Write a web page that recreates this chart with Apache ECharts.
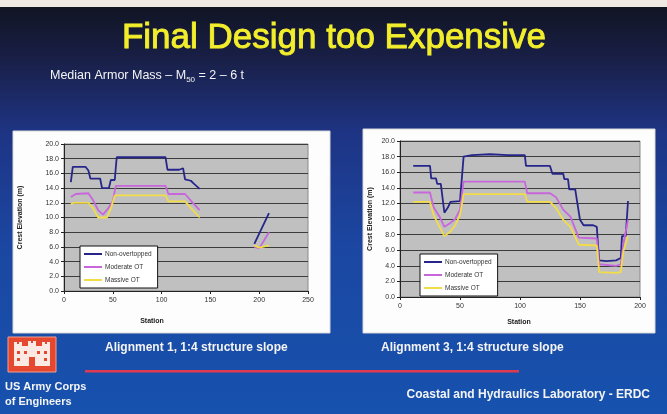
<!DOCTYPE html>
<html>
<head>
<meta charset="utf-8">
<script src="https://cdn.jsdelivr.net/npm/echarts@6/dist/echarts.min.js"></script>
<style>
  html, body { margin: 0; padding: 0; background: #14182c; }
  #chart { width: 667px; height: 414px; }
</style>
</head>
<body>
<div id="chart"></div>
<script>
// Crest elevation (m) along station, alignment 1 (null = gap in the structure)
const a1NonStation = [7, 9, 22, 25, 27, 37, 39, 46, 48, 52, 54, 104, 106, 118, 122, 124, 130, 133, 139, null, 195, 210];
const a1NonElev    = [14.8, 16.9, 16.9, 16.4, 15.3, 15.3, 14.0, 14.0, 15.1, 15.1, 18.2, 18.2, 16.5, 16.5, 16.7, 15.2, 15.0, 14.6, 13.9, null, 6.4, 10.6];
const a1ModStation = [7, 12, 25, 30, 35, 40, 45, 50, 53, 104, 107, 124, 132, 139, null, 195, 200, 210];
const a1ModElev    = [12.8, 13.2, 13.3, 12.3, 11.0, 10.4, 11.2, 12.2, 14.3, 14.3, 13.2, 13.2, 12.0, 11.0, null, 6.0, 5.8, 8.0];
const a1MasStation = [7, 10, 25, 30, 35, 44, 48, 52, 104, 107, 124, 132, 139, null, 195, 200, 210];
const a1MasElev    = [11.8, 12.0, 12.0, 11.2, 10.0, 10.0, 11.2, 13.0, 13.0, 12.2, 12.2, 11.0, 10.0, null, 6.2, 5.9, 6.2];

// Crest elevation (m) along station, alignment 3
const a3NonStation = [11, 25, 26, 30, 31, 34, 37, 40, 42, 50, 53, 60, 75, 90, 104, 105, 125, 127, 136, 137, 140, 141, 146, 150, 153, 161, 164, 165, 166, 172, 180, 184, 185, 188, 189, 190];
const a3NonElev    = [16.8, 16.8, 15.2, 15.2, 14.5, 14.5, 10.8, 11.5, 12.2, 12.3, 18.0, 18.2, 18.3, 18.2, 18.2, 16.8, 16.8, 15.8, 15.8, 15.1, 15.1, 13.8, 13.8, 9.9, 9.2, 9.2, 9.0, 6.7, 4.7, 4.6, 4.7, 5.0, 7.8, 7.8, 9.9, 12.3];
const a3ModStation = [11, 25, 28, 33, 37, 42, 46, 50, 53, 104, 106, 125, 130, 136, 142, 149, 164, 166, 180, 184, 186, 190];
const a3ModElev    = [13.4, 13.4, 11.5, 10.3, 9.0, 9.5, 10.0, 11.2, 14.8, 14.8, 13.3, 13.3, 12.8, 11.2, 10.3, 7.6, 7.5, 4.2, 4.0, 4.2, 6.7, 9.9];
const a3MasStation = [11, 25, 28, 33, 37, 42, 46, 50, 53, 104, 106, 125, 130, 136, 142, 149, 164, 166, 180, 184, 186, 190];
const a3MasElev    = [12.2, 12.2, 10.5, 9.0, 7.8, 8.4, 9.2, 10.5, 13.2, 13.2, 12.2, 12.2, 11.4, 9.9, 9.0, 6.7, 6.6, 3.2, 3.1, 3.2, 5.8, 7.8];

const seriesNames = ['Non-overtopped', 'Moderate OT', 'Massive OT'];
const seriesColors = ['#26268a', '#c866dc', '#f2dc48'];

const yTicks = { min: 0, max: 20, step: 2 };
const x1Ticks = { min: 0, max: 250, step: 50 };
const x3Ticks = { min: 0, max: 200, step: 50 };

function pairs(st, el) {
  return st.map((s, i) => (s === null || el[i] === null) ? null : [s, el[i]]);
}

const chart = echarts.init(document.getElementById('chart'), null, { renderer: 'canvas' });

const tickFont = { fontSize: 7, color: '#333', fontFamily: 'Liberation Sans' };
const titleFont = { fontSize: 7, fontWeight: 'bold', color: '#222', fontFamily: 'Liberation Sans' };

function xAxisFor(idx, t) {
  return {
    gridIndex: idx, type: 'value', min: t.min, max: t.max, interval: t.step,
    axisLine: { show: true, onZero: false, lineStyle: { color: '#222', width: 1 } },
    axisTick: { show: true, length: 3, lineStyle: { color: '#222' } },
    axisLabel: Object.assign({ margin: 6 }, tickFont),
    splitLine: { show: false }
  };
}
function yAxisFor(idx, gap) {
  return {
    gridIndex: idx, type: 'value', min: yTicks.min, max: yTicks.max, interval: yTicks.step,
    name: 'Crest Elevation (m)', nameLocation: 'middle', nameRotate: 90, nameGap: gap,
    nameTextStyle: titleFont,
    axisLine: { show: true, lineStyle: { color: '#222', width: 1 } },
    axisTick: { show: true, length: 3, lineStyle: { color: '#222' } },
    axisLabel: Object.assign({ margin: 5, formatter: v => v.toFixed(1) }, tickFont),
    splitLine: { show: true, lineStyle: { color: '#3c3c3c', width: 1 } }
  };
}
function line(name, color, xi, data) {
  return {
    name, type: 'line', xAxisIndex: xi, yAxisIndex: xi, data,
    symbol: 'none', connectNulls: false, animation: false,
    lineStyle: { color, width: 1.8 }, itemStyle: { color }
  };
}
function legendAt(left, top) {
  return {
    data: seriesNames, left, top, orient: 'vertical', selectedMode: false,
    backgroundColor: '#fff', borderColor: '#111', borderWidth: 1,
    padding: [3, 6, 3, 4], itemGap: 3, itemWidth: 18, itemHeight: 2, icon: 'rect',
    textStyle: { fontSize: 6.5, color: '#333', fontFamily: 'Liberation Sans', lineHeight: 10, padding: [0, 0, 0, -2] }
  };
}

const slideFont = 'Liberation Sans';

const graphic = [
  // slide background
  { type: 'rect', z: -100, shape: { x: 0, y: 0, width: 667, height: 414 },
    style: { fill: new echarts.graphic.LinearGradient(0, 0, 0, 1, [
      { offset: 0, color: '#10131f' }, { offset: 0.14, color: '#191f46' },
      { offset: 0.32, color: '#1e3484' }, { offset: 0.6, color: '#1b47a2' },
      { offset: 1, color: '#1652ae' }]) } },
  { type: 'rect', z: -99, shape: { x: 0, y: 0, width: 667, height: 7 }, style: { fill: '#efe9e3' } },
  // chart panels
  { type: 'rect', z: -90, shape: { x: 13, y: 131, width: 317, height: 202 }, style: { fill: '#fdfdfd', stroke: '#d8d8d8', lineWidth: 1 } },
  { type: 'rect', z: -90, shape: { x: 363, y: 129, width: 292, height: 204 }, style: { fill: '#fdfdfd', stroke: '#d8d8d8', lineWidth: 1 } },
  // headings
  { type: 'text', z: 10, x: 334, y: 38, style: { text: 'Final Design too Expensive', fill: '#f2ee2c',
      stroke: '#f2ee2c', lineWidth: 0.9,
      font: 'normal 35px "Liberation Sans"', align: 'center', verticalAlign: 'middle' } },
  { type: 'text', z: 10, x: 50, y: 76, style: {
      text: '{a|Median Armor Mass – M}{s|50}{a| = 2 – 6 t}', fill: '#f4f4f4', align: 'left', verticalAlign: 'middle',
      rich: { a: { fontSize: 12.5, fontFamily: slideFont, fill: '#f4f4f4', lineHeight: 16, verticalAlign: 'middle' },
              s: { fontSize: 8, fontFamily: slideFont, fill: '#f4f4f4', lineHeight: 16, verticalAlign: 'bottom' } } } },
  // axis titles below the plots
  { type: 'text', z: 10, x: 152, y: 321, style: { text: 'Station', fill: '#222', font: 'bold 7px "Liberation Sans"', align: 'center', verticalAlign: 'middle' } },
  { type: 'text', z: 10, x: 519, y: 322, style: { text: 'Station', fill: '#222', font: 'bold 7px "Liberation Sans"', align: 'center', verticalAlign: 'middle' } },
  // captions
  { type: 'text', z: 10, x: 105, y: 348, style: { text: 'Alignment 1, 1:4 structure slope', fill: '#f4f4f4', font: 'bold 12px "Liberation Sans"', align: 'left', verticalAlign: 'middle' } },
  { type: 'text', z: 10, x: 381, y: 348, style: { text: 'Alignment 3, 1:4 structure slope', fill: '#f4f4f4', font: 'bold 12px "Liberation Sans"', align: 'left', verticalAlign: 'middle' } },
  // red rule
  { type: 'rect', z: 10, shape: { x: 85, y: 370, width: 434, height: 2.5 }, style: { fill: '#e03a4e' } },
  // footer
  { type: 'text', z: 10, x: 5, y: 387, style: { text: 'US Army Corps', fill: '#f4f4f4', font: 'bold 11px "Liberation Sans"', align: 'left', verticalAlign: 'middle' } },
  { type: 'text', z: 10, x: 5, y: 402, style: { text: 'of Engineers', fill: '#f4f4f4', font: 'bold 11px "Liberation Sans"', align: 'left', verticalAlign: 'middle' } },
  { type: 'text', z: 10, x: 650, y: 395, style: { text: 'Coastal and Hydraulics Laboratory - ERDC', fill: '#f4f4f4', font: 'bold 12px "Liberation Sans"', align: 'right', verticalAlign: 'middle' } },
  // castle logo
  { type: 'group', z: 10, x: 8, y: 337, children: [
    { type: 'rect', shape: { x: 0, y: 0, width: 48, height: 35 }, style: { fill: '#e5482e', stroke: '#f3a090', lineWidth: 1 } },
    { type: 'rect', shape: { x: 6, y: 9, width: 36, height: 20 }, style: { fill: '#fbe9e4' } },
    { type: 'rect', shape: { x: 6, y: 5, width: 8, height: 6 }, style: { fill: '#fbe9e4' } },
    { type: 'rect', shape: { x: 34, y: 5, width: 8, height: 6 }, style: { fill: '#fbe9e4' } },
    { type: 'rect', shape: { x: 20, y: 4, width: 8, height: 7 }, style: { fill: '#fbe9e4' } },
    { type: 'rect', shape: { x: 9, y: 5, width: 2, height: 2 }, style: { fill: '#e5482e' } },
    { type: 'rect', shape: { x: 37, y: 5, width: 2, height: 2 }, style: { fill: '#e5482e' } },
    { type: 'rect', shape: { x: 23, y: 4, width: 2, height: 2 }, style: { fill: '#e5482e' } },
    { type: 'rect', shape: { x: 9, y: 14, width: 3, height: 3 }, style: { fill: '#e5482e' } },
    { type: 'rect', shape: { x: 36, y: 14, width: 3, height: 3 }, style: { fill: '#e5482e' } },
    { type: 'rect', shape: { x: 16, y: 14, width: 3, height: 3 }, style: { fill: '#e5482e' } },
    { type: 'rect', shape: { x: 29, y: 14, width: 3, height: 3 }, style: { fill: '#e5482e' } },
    { type: 'rect', shape: { x: 9, y: 21, width: 3, height: 3 }, style: { fill: '#e5482e' } },
    { type: 'rect', shape: { x: 36, y: 21, width: 3, height: 3 }, style: { fill: '#e5482e' } },
    { type: 'rect', shape: { x: 21, y: 20, width: 6, height: 9 }, style: { fill: '#e5482e' } }
  ] }
];

const option = {
  animation: false,
  textStyle: { fontFamily: 'Liberation Sans' },
  grid: [
    { left: 64, top: 144, width: 244, height: 147, show: true, backgroundColor: '#c0c0c0', borderColor: '#8a8a8a', borderWidth: 1 },
    { left: 400, top: 141, width: 240, height: 156, show: true, backgroundColor: '#c0c0c0', borderColor: '#8a8a8a', borderWidth: 1 }
  ],
  xAxis: [xAxisFor(0, x1Ticks), xAxisFor(1, x3Ticks)],
  yAxis: [yAxisFor(0, 40), yAxisFor(1, 26)],
  legend: [legendAt(80, 246), legendAt(420, 254)],
  graphic,
  series: [
    line(seriesNames[0], seriesColors[0], 0, pairs(a1NonStation, a1NonElev)),
    line(seriesNames[1], seriesColors[1], 0, pairs(a1ModStation, a1ModElev)),
    line(seriesNames[2], seriesColors[2], 0, pairs(a1MasStation, a1MasElev)),
    line(seriesNames[0], seriesColors[0], 1, pairs(a3NonStation, a3NonElev)),
    line(seriesNames[1], seriesColors[1], 1, pairs(a3ModStation, a3ModElev)),
    line(seriesNames[2], seriesColors[2], 1, pairs(a3MasStation, a3MasElev))
  ]
};

chart.setOption(option);
</script>
</body>
</html>
